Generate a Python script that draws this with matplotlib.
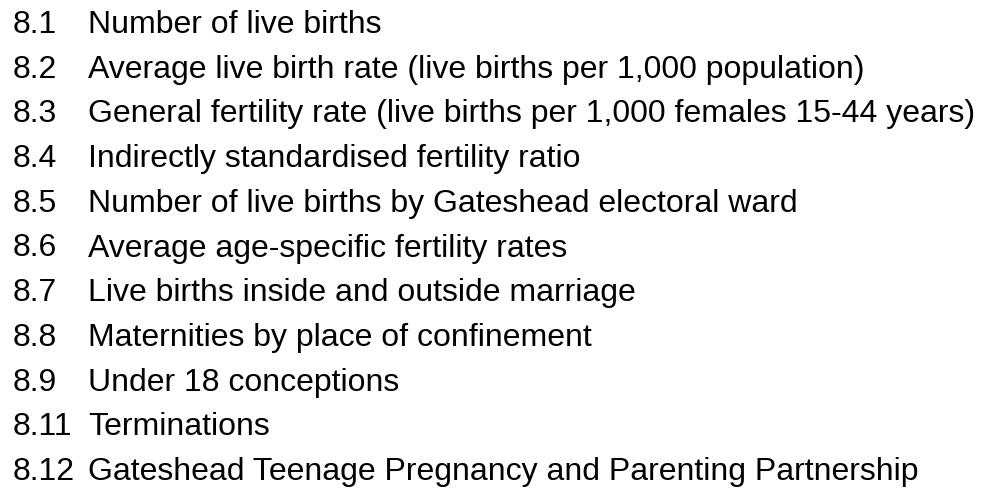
import matplotlib
matplotlib.use('Agg')
import matplotlib.pyplot as plt

plt.rcParams['font.family'] = ['Liberation Sans', 'DejaVu Sans']

numbers = ['8.1', '8.2', '8.3', '8.4', '8.5', '8.6', '8.7', '8.8', '8.9', '8.11', '8.12']
titles = [
    'Number of live births',
    'Average live birth rate (live births per 1,000 population)',
    'General fertility rate (live births per 1,000 females 15-44 years)',
    'Indirectly standardised fertility ratio',
    'Number of live births by Gateshead electoral ward',
    'Average age-specific fertility rates',
    'Live births inside and outside marriage',
    'Maternities by place of confinement',
    'Under 18 conceptions',
    'Terminations',
    'Gateshead Teenage Pregnancy and Parenting Partnership',
]

fig = plt.figure(figsize=(9.82, 4.88), dpi=100)
ax = fig.add_axes([0, 0, 1, 1])
ax.set_xlim(0, 982)
ax.set_ylim(488, 0)
ax.axis('off')

first_baseline = 33
row_gap = 44.7
for i, (num, title) in enumerate(zip(numbers, titles)):
    y = first_baseline + i * row_gap
    ax.text(13, y, num, fontsize=23, va='baseline', ha='left', color='black')
    ax.text(88, y, title, fontsize=23, va='baseline', ha='left', color='black')

fig.savefig('out.png', dpi=100, facecolor='white')
